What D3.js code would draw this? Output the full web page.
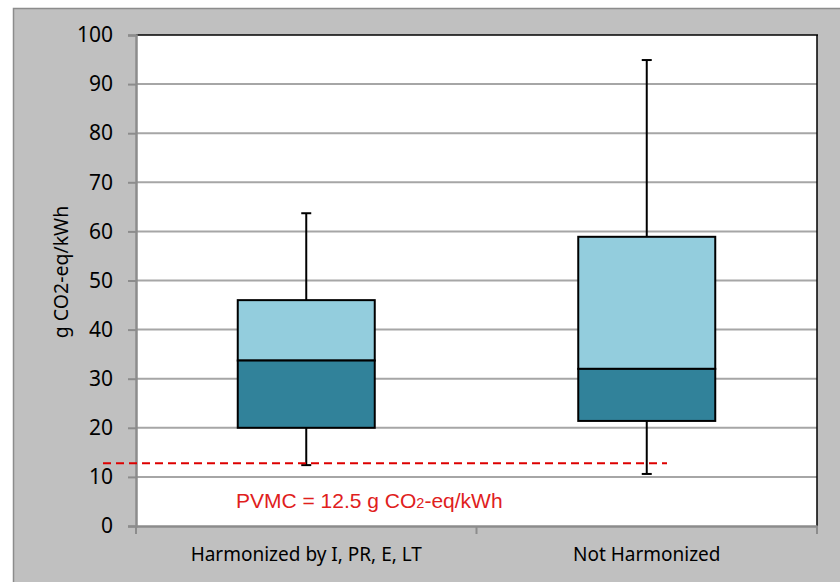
<!DOCTYPE html>
<html><head><meta charset="utf-8">
<script src="https://cdn.jsdelivr.net/npm/d3@7"></script>
<style>body{margin:0;background:#fff;}svg{display:block;}</style>
</head><body>
<svg id="chart" width="840" height="582"></svg>
<script>
const categories = ["Harmonized by I, PR, E, LT", "Not Harmonized"];
const whiskerLow  = [12.4, 10.6];
const q1          = [20.0, 21.4];
const median      = [33.7, 32.0];
const q3          = [46.0, 58.9];
const whiskerHigh = [63.7, 94.9];
const yTicks = [0,10,20,30,40,50,60,70,80,90,100];
const refValue = 12.8;

const svg = d3.select("#chart");
const W = 840, H = 582;
const m = {left:136, right:817, top:35, bottom:526};

svg.append("rect").attr("x",13.5).attr("y",8.5).attr("width",W).attr("height",H)
  .attr("fill","#c0c0c0").attr("stroke","#8c8c8c").attr("stroke-width",1.5);
svg.append("rect").attr("x",m.left).attr("y",m.top).attr("width",m.right-m.left).attr("height",m.bottom-m.top)
  .attr("fill","#fff");

const y = d3.scaleLinear().domain([0,100]).range([m.bottom, m.top]);
const x = d3.scaleBand().domain(categories).range([m.left, m.right]).paddingInner(0).paddingOuter(0);

// gridlines
svg.append("g").selectAll("line").data(yTicks.filter(d=>d>0 && d<100)).join("line")
  .attr("x1",m.left).attr("x2",m.right).attr("y1",d=>y(d)).attr("y2",d=>y(d))
  .attr("stroke","#a6a6a6").attr("stroke-width",2);

// top and right border
svg.append("line").attr("x1",m.left).attr("x2",m.right+1).attr("y1",m.top).attr("y2",m.top).attr("stroke","#000").attr("stroke-width",1.5);
svg.append("line").attr("x1",m.right).attr("x2",m.right).attr("y1",m.top).attr("y2",m.bottom).attr("stroke","#000").attr("stroke-width",1.5);

// y axis
const yAxis = d3.axisLeft(y).tickValues(yTicks).tickSize(8).tickPadding(15);
const gy = svg.append("g").attr("transform",`translate(${m.left},0)`).call(yAxis);
gy.select(".domain").attr("stroke","#8c8c8c").attr("stroke-width",2.5);
gy.selectAll(".tick line").attr("stroke","#8c8c8c").attr("stroke-width",2);
gy.selectAll(".tick text").attr("font-family","'Noto Sans', sans-serif").attr("font-size",21).attr("fill","#000");

// x axis
const xAxis = d3.axisBottom(x).tickSize(0).tickPadding(22);
const gx = svg.append("g").attr("transform",`translate(0,${m.bottom})`).call(xAxis);
gx.select(".domain").attr("stroke","#8c8c8c").attr("stroke-width",2.5);
gx.selectAll(".tick text").attr("font-family","'Noto Sans', sans-serif").attr("font-size",19).attr("fill","#000");
const bounds = [m.left, ...categories.map(c=>x(c)+x.bandwidth())];
gx.selectAll(".sep").data(bounds).join("line").attr("class","sep")
  .attr("x1",d=>d).attr("x2",d=>d).attr("y1",0).attr("y2",8)
  .attr("stroke","#8c8c8c").attr("stroke-width",2);

// boxes
const bw = 137, capW = 10;
categories.forEach((c,i)=>{
  const cx = x(c) + x.bandwidth()/2;
  const g = svg.append("g");
  g.append("line").attr("x1",cx).attr("x2",cx).attr("y1",y(whiskerHigh[i])).attr("y2",y(q3[i])).attr("stroke","#000").attr("stroke-width",2);
  g.append("line").attr("x1",cx).attr("x2",cx).attr("y1",y(q1[i])).attr("y2",y(whiskerLow[i])).attr("stroke","#000").attr("stroke-width",2);
  g.append("line").attr("x1",cx-capW/2).attr("x2",cx+capW/2).attr("y1",y(whiskerHigh[i])).attr("y2",y(whiskerHigh[i])).attr("stroke","#000").attr("stroke-width",2);
  g.append("line").attr("x1",cx-capW/2).attr("x2",cx+capW/2).attr("y1",y(whiskerLow[i])).attr("y2",y(whiskerLow[i])).attr("stroke","#000").attr("stroke-width",2);
  g.append("rect").attr("x",cx-bw/2).attr("width",bw).attr("y",y(q3[i])).attr("height",y(median[i])-y(q3[i]))
    .attr("fill","#93cddd").attr("stroke","#000").attr("stroke-width",2);
  g.append("rect").attr("x",cx-bw/2).attr("width",bw).attr("y",y(median[i])).attr("height",y(q1[i])-y(median[i]))
    .attr("fill","#31829a").attr("stroke","#000").attr("stroke-width",2);
});

// reference line
svg.append("line").attr("x1",103).attr("x2",667).attr("y1",y(refValue)).attr("y2",y(refValue))
  .attr("stroke","#dd0000").attr("stroke-width",2).attr("stroke-dasharray","8,5");

const lab = svg.append("text").attr("x",236).attr("y",508)
  .attr("font-family","'Liberation Sans', Arial, sans-serif").attr("font-size",21).attr("fill","#e0201c");
lab.append("tspan").text("PVMC = 12.5 g CO");
lab.append("tspan").attr("font-size",14.5).text("2");
lab.append("tspan").text("-eq/kWh");

// y title
svg.append("text").attr("transform","translate(68,272) rotate(-90)").attr("text-anchor","middle")
  .attr("font-family","'Noto Sans', sans-serif").attr("font-size",19.5).attr("fill","#000").text("g CO2-eq/kWh");
</script>
</body></html>
